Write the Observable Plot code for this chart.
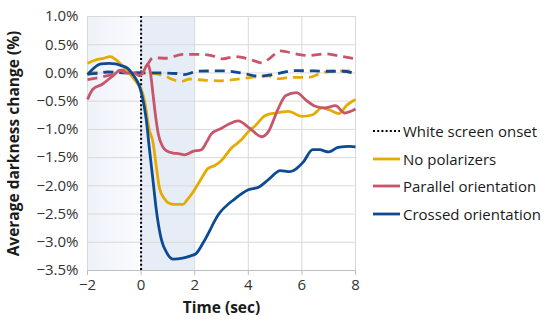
<!DOCTYPE html>
<html>
<head>
<meta charset="utf-8">
<script src="https://cdn.jsdelivr.net/npm/d3@7"></script>
<script src="https://cdn.jsdelivr.net/npm/@observablehq/plot@0.6"></script>
<style>
  html, body { margin: 0; padding: 0; background: #fff; }
  #wrap { position: relative; width: 544px; height: 320px; font-family: "Open Sans", sans-serif; }
  #legend { position: absolute; left: 373px; top: 117px; font-size: 15px; color: #1a1a1a; }
  .item { display: flex; align-items: center; height: 27.7px; white-space: nowrap; }
  .item svg { margin-right: 2px; }
</style>
</head>
<body>
<div id="wrap"><div id="legend"></div></div>
<script>
// Time (sec) and average darkness change (%)
const noPolarizers = [[-2,0.17],[-1.7,0.23],[-1.4,0.26],[-1.15,0.29],[-0.95,0.24],[-0.7,0.13],[-0.45,0.0],[-0.15,-0.18],[0.05,-0.35],[0.15,-0.55],[0.3,-1.0],[0.44,-1.22],[0.56,-1.63],[0.69,-2.05],[0.87,-2.23],[1.05,-2.31],[1.25,-2.33],[1.56,-2.33],[1.7,-2.26],[1.94,-2.11],[2.25,-1.87],[2.5,-1.69],[2.75,-1.64],[3.0,-1.55],[3.37,-1.33],[3.75,-1.18],[4.0,-1.04],[4.25,-0.94],[4.62,-0.76],[5.0,-0.71],[5.5,-0.68],[6.0,-0.77],[6.4,-0.74],[6.75,-0.62],[7.1,-0.67],[7.37,-0.72],[7.7,-0.56],[8.0,-0.47]];
const parallel = [[-2,-0.47],[-1.8,-0.29],[-1.45,-0.2],[-1.05,-0.05],[-0.8,0.04],[-0.55,0.0],[-0.25,0.0],[-0.06,-0.05],[0.06,0.0],[0.25,0.15],[0.35,0.0],[0.45,-0.4],[0.55,-0.8],[0.65,-1.1],[0.8,-1.3],[0.95,-1.38],[1.19,-1.42],[1.4,-1.43],[1.62,-1.45],[1.94,-1.39],[2.25,-1.36],[2.45,-1.22],[2.62,-1.08],[3.0,-0.98],[3.3,-0.9],[3.62,-0.85],[4.05,-0.98],[4.5,-1.13],[4.75,-1.04],[5.1,-0.65],[5.4,-0.4],[5.8,-0.35],[6.15,-0.48],[6.5,-0.59],[6.85,-0.62],[7.25,-0.58],[7.6,-0.71],[8.0,-0.64]];
const crossed = [[-2,-0.03],[-1.8,0.07],[-1.5,0.16],[-1.2,0.17],[-0.95,0.16],[-0.75,0.13],[-0.5,0.08],[-0.35,0.0],[-0.2,-0.1],[-0.05,-0.25],[0.1,-0.55],[0.2,-0.85],[0.3,-1.3],[0.45,-1.93],[0.56,-2.4],[0.75,-2.94],[0.95,-3.18],[1.2,-3.30],[1.55,-3.28],[1.85,-3.24],[2.05,-3.2],[2.35,-2.98],[2.9,-2.5],[3.5,-2.23],[4.0,-2.07],[4.4,-2.02],[4.75,-1.89],[5.2,-1.73],[5.55,-1.75],[6.05,-1.58],[6.4,-1.36],[6.65,-1.36],[7.0,-1.40],[7.35,-1.32],[7.8,-1.30],[8.0,-1.31]];
const noPolarizersCtrl = [[-2,0.0],[-1.5,0.01],[-1.0,0.01],[-0.5,0.0],[0.0,0.0],[0.5,-0.01],[0.87,-0.05],[1.2,-0.12],[1.5,-0.15],[1.8,-0.11],[2.4,-0.13],[2.95,-0.14],[3.6,-0.11],[4.25,-0.07],[4.75,-0.05],[5.1,-0.1],[5.6,-0.08],[6.25,-0.08],[6.75,0.0],[7.25,0.035],[7.75,0.035],[8.0,0.035]];
const parallelCtrl = [[-2,-0.12],[-1.55,-0.08],[-1.05,-0.02],[-0.75,0.05],[-0.45,0.04],[-0.2,0.0],[0.0,0.0],[0.2,0.12],[0.45,0.27],[0.95,0.26],[1.55,0.33],[2.2,0.33],[2.7,0.3],[3.05,0.25],[3.5,0.29],[4.0,0.25],[4.5,0.18],[4.75,0.24],[5.2,0.39],[5.75,0.34],[6.25,0.31],[6.9,0.34],[7.4,0.3],[8.0,0.25]];
const crossedCtrl = [[-2,-0.02],[-1.5,0.0],[-1.25,0.02],[-0.5,0.0],[0.0,0.0],[0.75,0.0],[1.3,-0.01],[1.6,-0.03],[2.1,0.03],[2.6,0.035],[3.1,0.035],[3.75,0.0],[4.4,-0.06],[5.0,-0.02],[5.7,0.04],[6.5,0.035],[7.0,0.03],[7.5,0.03],[8.0,-0.01]];

const xTicks = [-2, 0, 2, 4, 6, 8];
const yTicks = [-3.5, -3.0, -2.5, -2.0, -1.5, -1.0, -0.5, 0.0, 0.5, 1.0];
const onset = [0];
const shadeBefore = [{x1: -2, x2: 0}];
const shadeAfter = [{x1: 0, x2: 2}];
const legendItems = [
  {label: "White screen onset", color: "#000", dash: "2,2.2"},
  {label: "No polarizers", color: "#e6ab00", dash: null},
  {label: "Parallel orientation", color: "#c8566a", dash: null},
  {label: "Crossed orientation", color: "#0c4a93", dash: null}
];

const colors = {none: "#e6ab00", parallel: "#c8566a", crossed: "#0c4a93"};
const minus = s => s.replace("-", "\u2212");
const lineOpts = (stroke, dashed) => ({
  x: d => d[0], y: d => d[1], stroke, strokeWidth: 2.8,
  curve: "monotone-x", strokeDasharray: dashed ? "10,6" : null, strokeLinecap: "butt"
});

const chart = Plot.plot({
  width: 544, height: 320,
  marginLeft: 87, marginRight: 189, marginTop: 16, marginBottom: 50,
  style: {fontFamily: "'Open Sans', sans-serif", fontSize: "15px", color: "#262626", background: "transparent"},
  x: {domain: [-2, 8]},
  y: {domain: [-3.5, 1.0]},
  marks: [
    Plot.rect(shadeBefore, {x1: "x1", x2: "x2", y1: -3.5, y2: 1.0, fill: "url(#preGrad)"}),
    Plot.rect(shadeAfter, {x1: "x1", x2: "x2", y1: -3.5, y2: 1.0, fill: "#e7edf6"}),
    Plot.gridY(yTicks, {stroke: "#d9d9d9", strokeOpacity: 1}),
    Plot.gridX(xTicks, {stroke: "#d9d9d9", strokeOpacity: 1}),
    Plot.ruleY([-3.5], {stroke: "#bfbfbf"}),
    Plot.axisX({ticks: xTicks, tickSize: 5, stroke: "#bfbfbf", tickPadding: 4,
      tickFormat: d => minus(String(d)), label: "Time (sec)", labelAnchor: "center", labelArrow: "none", labelOffset: 42, fill: "#333"}),
    Plot.axisY({ticks: yTicks, tickSize: 0, tickPadding: 9,
      tickFormat: d => minus(d.toFixed(1)) + "%", label: "Average darkness change (%)", labelAnchor: "center", labelArrow: "none", labelOffset: 80, fill: "#333"}),
    Plot.ruleX(onset, {y1: -3.5, y2: 1.0, stroke: "#000", strokeWidth: 2, strokeDasharray: "2,2.2"}),
    Plot.line(parallelCtrl, lineOpts(colors.parallel, true)),
    Plot.line(noPolarizersCtrl, lineOpts(colors.none, true)),
    Plot.line(crossedCtrl, lineOpts(colors.crossed, true)),
    Plot.line(noPolarizers, lineOpts(colors.none, false)),
    Plot.line(parallel, lineOpts(colors.parallel, false)),
    Plot.line(crossed, lineOpts(colors.crossed, false))
  ]
});

// gradient definition for the pre-onset shading
const svg = d3.select(chart);
const defs = svg.insert("defs", ":first-child");
const grad = defs.append("linearGradient").attr("id", "preGrad").attr("x1", "0").attr("x2", "1").attr("y1", "0").attr("y2", "0");
grad.append("stop").attr("offset", "0%").attr("stop-color", "#eef2f9");
grad.append("stop").attr("offset", "100%").attr("stop-color", "#fafbfe");
svg.selectAll('[aria-label="x-axis label"] text, [aria-label="y-axis label"] text')
  .style("font-weight", "bold").style("font-size", "15.5px").attr("fill", "#1a1a1a");

document.getElementById("wrap").prepend(chart);

const legend = d3.select("#legend");
for (const it of legendItems) {
  const row = legend.append("div").attr("class", "item");
  const s = row.append("svg").attr("width", 28).attr("height", 10);
  s.append("line").attr("x1", 0).attr("x2", 27).attr("y1", 5).attr("y2", 5)
    .attr("stroke", it.color).attr("stroke-width", it.dash ? 2 : 2.8)
    .attr("stroke-dasharray", it.dash);
  row.append("span").text(it.label);
}
</script>
</body>
</html>
